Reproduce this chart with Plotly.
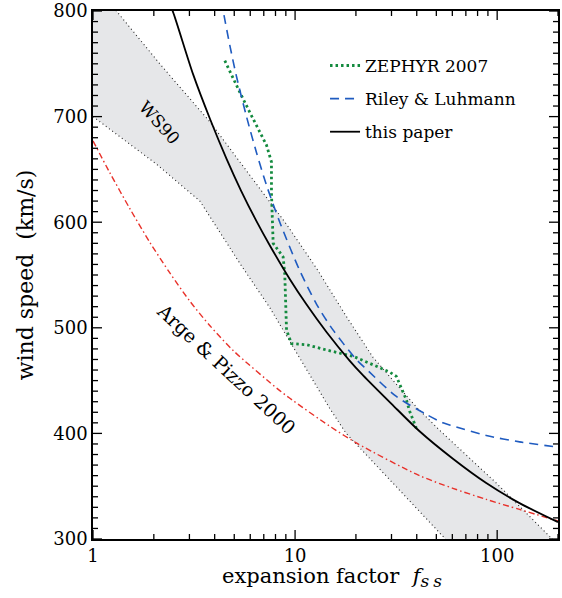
import plotly.graph_objects as go
import numpy as np

# ---------------- data ----------------
# "this paper" (black solid)
paper_f = [2.40, 2.49, 3.13, 3.79, 4.58, 5.4, 6.44, 7.5, 9.42, 11.4, 14.3, 18.6, 21.7, 30, 41.3, 60.4, 88.3, 129, 200]
paper_v = [806, 799, 740, 698, 660, 630, 601, 578, 546, 522, 496, 469, 455, 428, 402, 376, 353, 334, 316]

# Riley & Luhmann (blue dashed)
riley_f = [4.33, 4.41, 4.76, 5.13, 5.75, 6.44, 7.22, 8.4, 10.5, 12.8, 15.4, 20.1, 22.5, 31.7, 44.6, 53.9, 60.4, 88.3, 129, 200]
riley_v = [810, 800, 767, 738, 700, 666, 635, 600, 555, 522, 498, 470, 461, 435, 418, 410, 407, 398, 392, 387]

# ZEPHYR 2007 (green dotted)
zeph_f = [4.49, 4.85, 5.33, 5.97, 6.69, 7.22, 7.64, 7.64, 7.79, 8.73, 8.89, 9.07, 9.6, 11.4, 14.3, 19.4, 24.3, 29.4, 31.7, 33.6, 35.5, 36.9, 39.8]
zeph_v = [753, 739, 723, 704, 685, 673, 657, 628, 580, 567, 551, 498, 485, 484, 479, 473, 465, 458, 454, 443, 432, 421, 405]

# Arge & Pizzo 2000 (red dash-dot)
arge_f = [1, 1.21, 1.52, 1.91, 2.4, 3.02, 3.79, 4.94, 8.4, 9.78, 14.8, 20.1, 41.3, 60.4, 88.3, 129, 200]
arge_v = [677, 647, 613, 581, 552, 525, 502, 478.5, 440.5, 431, 407, 391, 360, 348, 337.5, 328, 317]

# WS90 band (grey, dotted edges)
ws_low_f = [1, 2.06, 3.38, 5.33, 7.5, 11.4, 14.8, 17.9, 21.7, 50, 56, 60]
ws_low_v = [700, 655, 620, 561, 519, 461, 424, 400, 383, 309, 299, 293]
ws_up_f = [1, 1.31, 2.14, 3.79, 6.69, 9.07, 12.8, 17.9, 24.3, 39.8, 51.9, 99, 181.6, 200]
ws_up_v = [827, 800, 750, 695, 632, 598, 556, 511, 472, 425, 403, 353, 302.5, 295]

x_range = [1, 200]
x_ticks = [1, 10, 100]
x_ticklabels = ["1", "10", "100"]
x_minor = [2, 3, 4, 5, 6, 7, 8, 9, 20, 30, 40, 50, 60, 70, 80, 90, 200]
y_range = [300, 800]
y_ticks = [300, 400, 500, 600, 700, 800]
y_minor = [v for v in range(300, 801, 10) if v not in y_ticks]

FONT = "DejaVu Serif"
MAJOR_LEN, MINOR_LEN = 9, 5
W, H = 562, 598
M = dict(l=93, r=4, t=11, b=59)
PLOT_W = W - M["l"] - M["r"]

fig = go.Figure()

# grey band
band_x = ws_low_f + ws_up_f[::-1]
band_y = ws_low_v + ws_up_v[::-1]
fig.add_trace(go.Scatter(x=band_x, y=band_y, mode="lines", fill="toself",
                         fillcolor="rgb(230,231,233)", line=dict(width=0),
                         showlegend=False, hoverinfo="skip"))
for fx, fv in ((ws_low_f, ws_low_v), (ws_up_f, ws_up_v)):
    fig.add_trace(go.Scatter(x=fx, y=fv, mode="lines",
                             line=dict(color="#222222", width=1.1, dash="1px,3px"),
                             showlegend=False, hoverinfo="skip"))

# Arge & Pizzo
fig.add_trace(go.Scatter(x=arge_f, y=arge_v, mode="lines",
                         line=dict(color="#e8312a", width=1.4, dash="6px,3px,1.5px,3px",
                                   shape="spline", smoothing=0.8),
                         showlegend=False))

# legend traces
fig.add_trace(go.Scatter(x=zeph_f, y=zeph_v, mode="lines", name="ZEPHYR 2007", legendgroup="a",
                         line=dict(color="#138a3e", width=2.8, dash="2.5px,3px")))
fig.add_trace(go.Scatter(x=riley_f, y=riley_v, mode="lines", name="Riley &amp; Luhmann", legendgroup="b",
                         line=dict(color="#1f5bc0", width=1.6, dash="9px,6px", shape="spline", smoothing=0.8)))
fig.add_trace(go.Scatter(x=paper_f, y=paper_v, mode="lines", name="this paper", legendgroup="c",
                         line=dict(color="black", width=1.8, shape="spline", smoothing=0.8)))

# labels
fig.add_annotation(x=np.log10(2.14), y=694, xref="x", yref="y", text="WS90", showarrow=False,
                   textangle=48, font=dict(family=FONT, size=17, color="black"))
fig.add_annotation(x=np.log10(4.58), y=461, xref="x", yref="y", text="Arge &amp; Pizzo 2000", showarrow=False,
                   textangle=43, font=dict(family=FONT, size=19, color="black"))
# x-axis title
fig.add_annotation(x=0.518, y=-0.073, xref="paper", yref="paper", xanchor="center", yanchor="middle",
                   showarrow=False,
                   text=("expansion factor&nbsp; <i>f</i><sub><span style=\"font-size:17px;letter-spacing:4px\">"
                         "<i>ss</i></span></sub>"),
                   font=dict(family=FONT, size=21, color="black"))

# inward tick marks on all four sides
tick_line = dict(color="black", width=1.3)
for vals, ln in ((x_ticks, MAJOR_LEN), (x_minor, MINOR_LEN)):
    for t in vals:
        fig.add_shape(type="line", xref="x", x0=t, x1=t,
                      yref="paper", ysizemode="pixel", yanchor=0, y0=0, y1=ln, line=tick_line)
        fig.add_shape(type="line", xref="x", x0=t, x1=t,
                      yref="paper", ysizemode="pixel", yanchor=1, y0=0, y1=-ln, line=tick_line)
for vals, ln in ((y_ticks, MAJOR_LEN), (y_minor, MINOR_LEN)):
    for v in vals:
        fy = (v - y_range[0]) / (y_range[1] - y_range[0])
        fig.add_shape(type="line", xref="paper", yref="paper", x0=0, x1=ln / PLOT_W,
                      y0=fy, y1=fy, line=tick_line)
        fig.add_shape(type="line", xref="paper", yref="paper", x0=1, x1=1 - ln / PLOT_W,
                      y0=fy, y1=fy, line=tick_line)

axis_common = dict(showline=True, linecolor="black", linewidth=1.5, mirror=True, ticks="",
                   showgrid=False, zeroline=False, automargin=False,
                   tickfont=dict(family=FONT, size=18, color="black"))

fig.update_xaxes(type="log", range=[np.log10(x_range[0]), np.log10(x_range[1])], tickmode="array",
                 tickvals=x_ticks, ticktext=x_ticklabels, **axis_common)
fig.update_yaxes(range=y_range, tickmode="array", tickvals=y_ticks,
                 title=dict(text="wind speed&nbsp; (km/s)", standoff=14,
                            font=dict(family=FONT, size=22, color="black")),
                 **axis_common)

fig.update_layout(width=W, height=H, margin=M,
                  paper_bgcolor="white", plot_bgcolor="white",
                  font=dict(family=FONT, color="black"),
                  legend=dict(x=0.499, y=0.93, xanchor="left", yanchor="top",
                              bgcolor="rgba(0,0,0,0)", borderwidth=0,
                              font=dict(family=FONT, size=17, color="black"),
                              traceorder="grouped", tracegroupgap=8))

fig.write_html("out.html", config={"displayModeBar": False},
               post_script="document.body.style.margin='0px';document.body.style.overflow='hidden';")
